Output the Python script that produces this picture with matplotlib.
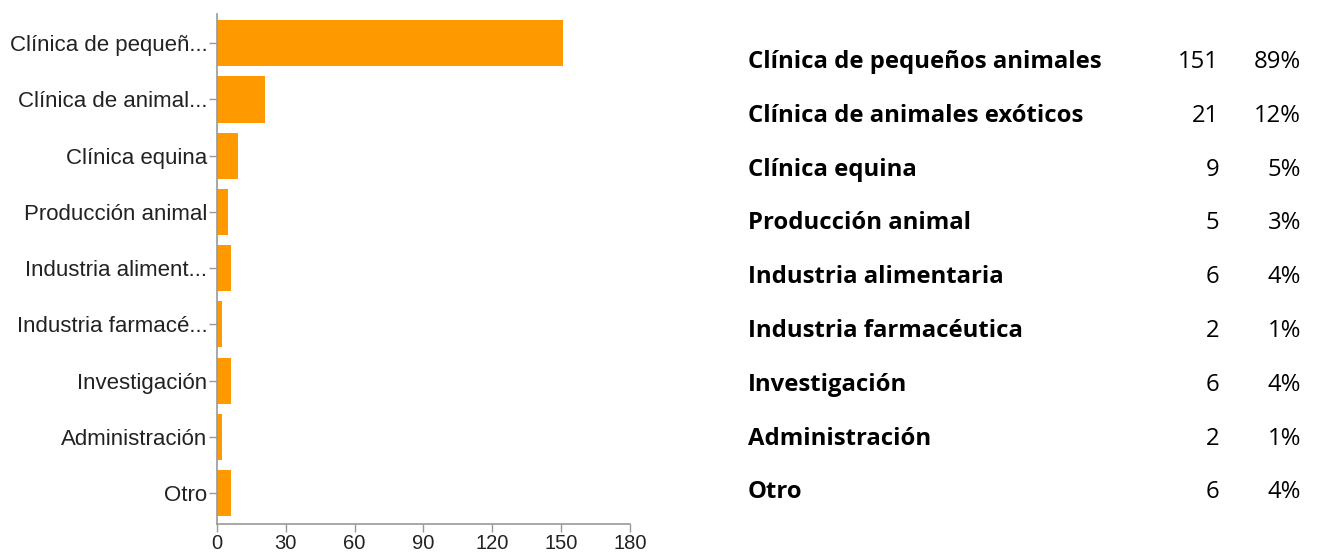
import matplotlib.pyplot as plt

# short labels shown next to the bars (as cut in the original)
bar_labels = ["Clínica de pequeñ...", "Clínica de animal...", "Clínica equina",
              "Producción animal", "Industria aliment...", "Industria farmacé...",
              "Investigación", "Administración", "Otro"]
full_labels = ["Clínica de pequeños animales", "Clínica de animales exóticos",
               "Clínica equina", "Producción animal", "Industria alimentaria",
               "Industria farmacéutica", "Investigación", "Administración", "Otro"]
counts = [151, 21, 9, 5, 6, 2, 6, 2, 6]
percents = ["89%", "12%", "5%", "3%", "4%", "1%", "4%", "1%", "4%"]
xticks = [0, 30, 60, 90, 120, 150, 180]

fig = plt.figure(figsize=(13.19, 5.53), dpi=100)
ax = fig.add_axes([0.1645, 0.0524, 0.3131, 0.9223])

pos = list(range(len(counts)))
ax.barh(pos, counts, height=0.82, color="#FF9900")
ax.set_ylim(8.55, -0.52)
ax.set_xlim(0, 180)
ax.set_xticks(xticks)
ax.set_yticks(pos)
ax.set_yticklabels(bar_labels, family="Liberation Sans", fontsize=16, color="#222222")
ax.set_xticklabels([str(t) for t in xticks], family="Liberation Sans", fontsize=14.5, color="#222222")

for s in ["top", "right"]:
    ax.spines[s].set_visible(False)
for s in ["left", "bottom"]:
    ax.spines[s].set_color("#999999")
    ax.spines[s].set_linewidth(1.2)
ax.tick_params(axis="both", colors="#999999", labelcolor="#222222", length=6, width=1)
ax.tick_params(axis="y", pad=1)
ax.tick_params(axis="x", pad=1)

# table on the right
row_y = [62 + i * 53.8 for i in range(len(counts))]
for i, y in enumerate(row_y):
    fy = 1 - y / 553
    fig.text(748 / 1319, fy, full_labels[i], family="Open Sans", fontweight="bold",
             fontsize=17.2, va="center", ha="left", color="black")
    fig.text(1219 / 1319, fy, str(counts[i]), family="Open Sans", fontsize=17.2,
             va="center", ha="right", color="black")
    fig.text(1301 / 1319, fy, percents[i], family="Open Sans", fontsize=17.2,
             va="center", ha="right", color="black")

fig.savefig("out.png", dpi=100)
